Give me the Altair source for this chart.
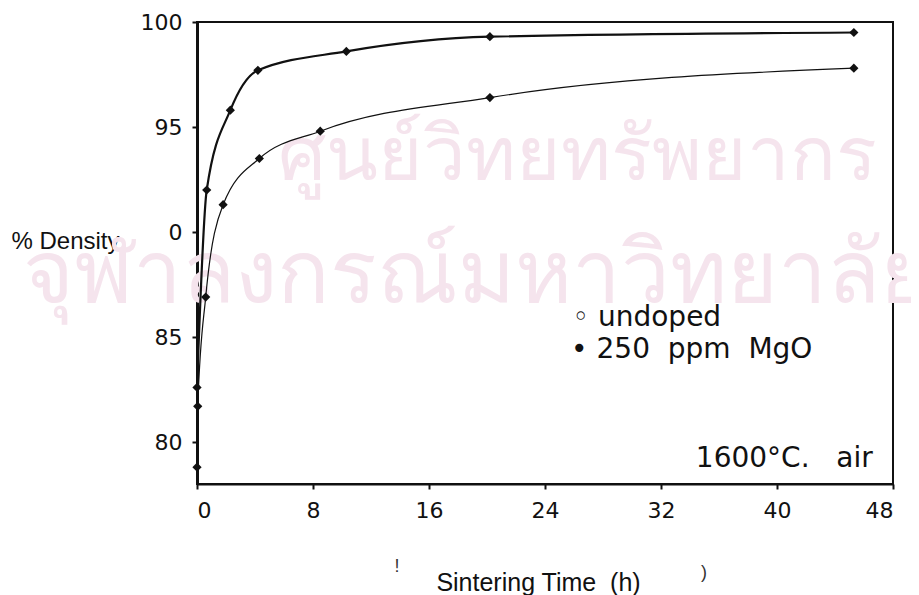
import altair as alt
import pandas as pd

# ---- data ----
t_mgo = [0, 0.67, 2.3, 4.2, 10.3, 20.2, 45.3]
d_mgo = [82.6, 92.0, 95.8, 97.7, 98.6, 99.3, 99.5]
t_und = [0, 0.05, 0.6, 1.8, 4.3, 8.5, 20.2, 45.3]
d_und = [78.8, 81.7, 86.9, 91.3, 93.5, 94.8, 96.4, 97.8]
series_names = ["250 ppm MgO", "undoped"]

x_ticks = [0, 8, 16, 24, 32, 40, 48]
y_ticks = [80, 85, 90, 95, 100]

NB = "\u00a0"
legend_text = ["\u25e6" + NB + "undoped", "\u2022" + NB + "250" + NB * 2 + "ppm" + NB * 2 + "MgO"]
legend_t = [25.9, 25.8]
legend_d = [85.9, 84.4]
cond_text = ["1600\u00b0C." + NB * 3 + "air"]
cond_t = [46.6]
cond_d = [79.2]

rows = []
for t, d in zip(t_mgo, d_mgo):
    rows.append({"t": t, "d": d, "series": series_names[0]})
for t, d in zip(t_und, d_und):
    rows.append({"t": t, "d": d, "series": series_names[1]})
df = pd.DataFrame(rows)

leg = pd.DataFrame({"text": legend_text, "t": legend_t, "d": legend_d})
cond = pd.DataFrame({"text": cond_text, "t": cond_t, "d": cond_d})

xs = alt.Scale(domain=[0, 48], nice=False, zero=False)
ys = alt.Scale(domain=[78, 100], nice=False, zero=False)

X = alt.X("t:Q", scale=xs, axis=alt.Axis(
    values=x_ticks, grid=False, title="Sintering Time" + NB * 2 + "(h)",
    titleFont="Liberation Sans", titleFontSize=25, titleFontWeight="normal",
    titleColor="#111", titleX=341, titleY=98, titleBaseline="middle",
    labelFont="DejaVu Sans", labelFontSize=22, labelColor="#111",
    labelPadding=11, tickSize=5, tickColor="#111", tickWidth=2,
    domainColor="#111", domainWidth=2))
Y = alt.Y("d:Q", scale=ys, axis=alt.Axis(
    values=y_ticks, grid=False, title="% Density",
    labelExpr="datum.value == 90 ? '0' : datum.label",
    titleFont="Liberation Sans", titleFontSize=24, titleFontWeight="normal",
    titleColor="#111", titleAngle=0, titleAlign="left", titleX=-186,
    titleY=219, titleBaseline="middle",
    labelFont="DejaVu Sans", labelFontSize=22, labelColor="#111",
    labelPadding=10, tickSize=5, tickColor="#111", tickWidth=2,
    domainColor="#111", domainWidth=3))

watermark = pd.DataFrame({"w": ["\u0e28\u0e39\u0e19\u0e22\u0e4c\u0e27\u0e34\u0e17\u0e22\u0e17\u0e23\u0e31\u0e1e\u0e22\u0e32\u0e01\u0e23",
                                "\u0e08\u0e38\u0e2c\u0e32\u0e25\u0e07\u0e01\u0e23\u0e13\u0e4c\u0e21\u0e2b\u0e32\u0e27\u0e34\u0e17\u0e22\u0e32\u0e25\u0e31\u0e22"],
                          "px": [380, 280], "py": [158, 280], "fs": [76, 87]})
wm = alt.Chart(watermark).mark_text(
    color="#f5e4ed", font="Noto Sans", align="center", baseline="alphabetic"
).encode(
    text="w:N",
    x=alt.X("px:Q", scale=None),
    y=alt.Y("py:Q", scale=None),
    size=alt.Size("fs:Q", scale=None, legend=None),
)

lines = alt.Chart(df).mark_line(interpolate="monotone", color="#111").encode(
    x=X, y=Y, detail="series:N",
    strokeWidth=alt.StrokeWidth("series:N", scale=alt.Scale(domain=series_names, range=[2.2, 1.2]), legend=None),
)
points = alt.Chart(df).mark_point(shape="diamond", filled=True, size=85, color="#111", opacity=1).encode(
    x="t:Q", y="d:Q"
)
legend_layer = alt.Chart(leg).mark_text(font="DejaVu Sans", fontSize=28, color="#111",
                                        baseline="middle", align="left").encode(
    x="t:Q", y="d:Q", text="text:N"
)
cond_layer = alt.Chart(cond).mark_text(font="DejaVu Sans", fontSize=28, color="#111",
                                       baseline="middle", align="right").encode(
    x="t:Q", y="d:Q", text="text:N"
)
stray = alt.Chart(pd.DataFrame({"s": ["!", ")"], "px": [200, 507], "py": [545, 551]})).mark_text(
    font="Liberation Sans", fontSize=18, color="#333", baseline="middle"
).encode(text="s:N", x=alt.X("px:Q", scale=None), y=alt.Y("py:Q", scale=None))

chart = alt.layer(wm, lines, points, legend_layer, cond_layer, stray).properties(
    width=696, height=462,
    background="white",
    autosize=alt.AutoSizeParams(type="none"),
    padding={"left": 189, "top": 14, "right": 18, "bottom": 111},
).configure_view(stroke="#111", strokeWidth=2)

chart.save("out.html", embed_options={"renderer": "svg", "actions": False})
